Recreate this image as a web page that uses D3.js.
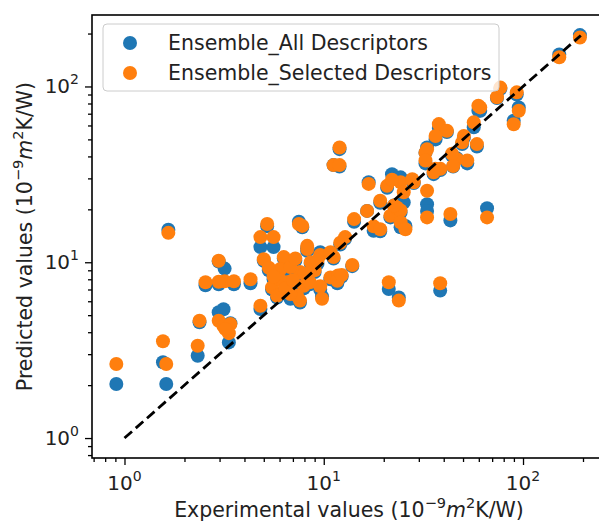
<!DOCTYPE html>
<html>
<head>
<meta charset="utf-8">
<script src="https://cdn.jsdelivr.net/npm/d3@7"></script>
<style>
  html, body { margin: 0; padding: 0; background: #fff; }
  svg { display: block; font-family: "DejaVu Sans", sans-serif; }
</style>
</head>
<body>
<svg id="chart"></svg>
<script>
// experimental value, prediction with all descriptors, prediction with selected descriptors
const experimental = [
  0.91, 1.56, 1.62, 1.66, 2.33, 2.38, 2.55, 2.97, 3.18, 2.97, 3.54, 2.97, 3.14, 3.40, 3.34, 3.21,
  4.81, 5.2, 5.6, 5.0, 4.29, 4.81, 5.5, 6.3, 6.06, 6.55, 5.83, 7.5, 7.94, 7.6, 7.35, 6.8,
  8.26, 8.6, 7.6, 9.6, 9.6, 9.8, 10.8, 11.8, 11.2, 11.7, 13.9, 12.3, 7.8, 8.26, 10.8, 12.1,
  12.8, 5.3, 6.0, 6.8, 7.2, 8.0, 9.0, 9.3, 5.6, 6.4, 7.0, 8.5,
  11.2, 12.0, 12.0, 16.8, 20.8, 24.3, 28.3, 14.2, 16.5, 17.8, 21.6, 23.3, 25.2, 24.3, 24.3, 25.7,
  19.2, 19.2, 22.5, 21.2, 23.8, 38.4, 33.0, 33.0, 43.2, 66.0, 22.0, 27.8,
  37.8, 41.5, 36.4, 33.0, 32.4, 49.5, 58.7, 46.6, 52.5, 44.0, 32.4, 36.4, 38.5, 35.6, 44.6, 50.5,
  56.6, 61.0, 59.7, 74.0, 77.0, 93.0, 95.2, 89.8, 152, 193
];
const predAll = [
  2.03, 2.70, 2.03, 15.3, 2.94, 4.55, 7.4, 10.1, 9.2, 7.5, 7.5, 5.2, 5.4, 4.5, 3.5, 4.3,
  12.2, 16.0, 12.2, 10.2, 7.6, 5.42, 7.0, 10.5, 8.8, 7.5, 6.3, 17.0, 7.1, 5.9, 6.2, 6.2,
  12.0, 9.8, 8.6, 11.4, 7.0, 6.4, 8.0, 8.2, 10.5, 7.6, 9.5, 8.3, 15.8, 11.6, 11.2, 12.6,
  13.6, 9.0, 8.2, 9.0, 10.2, 8.4, 8.8, 9.8, 8.0, 6.9, 7.6, 7.5,
  35.7, 35.0, 44.0, 28.5, 26.5, 30.4, 28.2, 17.0, 19.6, 15.1, 18.0, 20.0, 21.9, 19.2, 15.8, 16.1,
  21.8, 15.0, 21.0, 7.05, 6.3, 6.9, 21.4, 19.6, 17.3, 20.3, 31.7, 29.0,
  58.0, 55.0, 50.0, 45.0, 42.0, 47.0, 45.5, 39.0, 36.5, 40.5, 36.5, 33.2, 33.5, 31.7, 35.0, 51.0,
  58.6, 72.8, 72.8, 86.0, 97.0, 90.0, 76.0, 63.8, 152, 196
];
const predSelected = [
  2.64, 3.55, 2.64, 14.7, 3.35, 4.65, 7.7, 10.2, 7.8, 7.75, 7.8, 4.65, 4.33, 4.45, 3.95, 4.17,
  13.9, 16.5, 13.9, 10.4, 8.0, 5.66, 7.2, 10.7, 9.15, 7.7, 6.45, 16.5, 7.35, 6.05, 6.45, 6.6,
  12.4, 10.0, 8.8, 11.0, 7.3, 6.2, 8.2, 8.4, 10.7, 7.85, 9.65, 8.46, 16.1, 11.9, 11.4, 12.9,
  13.9, 9.3, 8.0, 9.4, 10.5, 8.6, 9.0, 10.2, 8.3, 7.1, 7.9, 7.7,
  35.7, 35.7, 45.0, 27.9, 27.2, 28.5, 28.5, 17.6, 19.6, 16.0, 18.4, 20.5, 25.0, 19.7, 16.9, 15.4,
  22.4, 15.4, 21.0, 7.7, 6.05, 7.6, 25.5, 18.0, 18.8, 18.0, 29.5, 29.7,
  61.1, 56.0, 52.3, 44.0, 42.0, 48.1, 47.0, 38.6, 37.9, 41.4, 37.9, 34.0, 34.0, 32.5, 35.3, 52.3,
  62.5, 76.0, 77.7, 86.8, 98.5, 92.6, 72.8, 61.0, 146.5, 190
];
const seriesNames = ["Ensemble_All Descriptors", "Ensemble_Selected Descriptors"];
const seriesColors = ["#1f77b4", "#ff7f0e"];
const majorTicks = [1, 10, 100];
const tickExponents = ["0", "1", "2"];
const idealLine = [1, 195];

const width = 599, height = 522;
const margin = { left: 92, right: 603, top: 15, bottom: 458 };
const markerR = 7;

const svg = d3.select("#chart").attr("width", width).attr("height", height);

const x = d3.scaleLog().domain([0.687, 252]).range([margin.left, margin.right]);
const y = d3.scaleLog().domain([0.77, 255]).range([margin.bottom, margin.top]);

const points = experimental.map((e, i) => ({ e, all: predAll[i], sel: predSelected[i] }));

// scatter: blue first, orange on top
svg.append("g").selectAll("circle")
  .data(points).enter().append("circle")
  .attr("cx", d => x(d.e)).attr("cy", d => y(d.all)).attr("r", markerR)
  .attr("fill", seriesColors[0]);
svg.append("g").selectAll("circle")
  .data(points).enter().append("circle")
  .attr("cx", d => x(d.e)).attr("cy", d => y(d.sel)).attr("r", markerR)
  .attr("fill", seriesColors[1]);

// y = x reference line
svg.append("line")
  .attr("x1", x(idealLine[0])).attr("y1", y(idealLine[0]))
  .attr("x2", x(idealLine[1])).attr("y2", y(idealLine[1]))
  .attr("stroke", "#000").attr("stroke-width", 2.8)
  .attr("stroke-dasharray", "10,5");

// axes (log minor ticks)
const minorX = [];
const minorY = [];
for (let dec = 0.1; dec <= 100; dec *= 10) {
  for (let k = 2; k <= 9; k++) {
    const v = +(k * dec).toPrecision(3);
    if (v > x.domain()[0] && v < x.domain()[1]) minorX.push(v);
    if (v > y.domain()[0] && v < y.domain()[1]) minorY.push(v);
  }
}

const xAxis = svg.append("g").attr("transform", `translate(0,${margin.bottom})`);
xAxis.call(d3.axisBottom(x).tickValues(minorX).tickSize(4).tickFormat(""));
xAxis.append("g").call(d3.axisBottom(x).tickValues(majorTicks).tickSize(7).tickFormat(""));
const yAxis = svg.append("g").attr("transform", `translate(${margin.left},0)`);
yAxis.call(d3.axisLeft(y).tickValues(minorY).tickSize(4).tickFormat(""));
yAxis.append("g").call(d3.axisLeft(y).tickValues(majorTicks).tickSize(7).tickFormat(""));
svg.selectAll(".domain").remove();
svg.selectAll(".tick line").attr("stroke", "#000").attr("stroke-width", 1.3);

// spines
svg.append("rect")
  .attr("x", margin.left).attr("y", margin.top)
  .attr("width", margin.right - margin.left).attr("height", margin.bottom - margin.top)
  .attr("fill", "none").attr("stroke", "#000").attr("stroke-width", 1.6);

// tick labels 10^n
majorTicks.forEach((v, i) => {
  const tx = svg.append("text")
    .attr("x", x(v)).attr("y", margin.bottom + 32)
    .attr("text-anchor", "middle").attr("font-size", 20).attr("fill", "#222");
  tx.append("tspan").text("10");
  tx.append("tspan").attr("font-size", 14).attr("dy", -9).text(tickExponents[i]);

  const ty = svg.append("text")
    .attr("x", 79).attr("y", y(v) + 7)
    .attr("text-anchor", "end").attr("font-size", 20).attr("fill", "#222");
  ty.append("tspan").text("10");
  ty.append("tspan").attr("font-size", 14).attr("dy", -9).text(tickExponents[i]);
});

// axis titles with mathtext-like units
function unitLabel(sel, prefix) {
  sel.append("tspan").text(prefix + " (10");
  sel.append("tspan").attr("font-size", 14.5).attr("dy", -9).text("\u22129");
  sel.append("tspan").attr("dy", 9).attr("font-style", "italic").text("m");
  sel.append("tspan").attr("font-size", 14.5).attr("dy", -9).text("2");
  sel.append("tspan").attr("dy", 9).text("K/W)");
}
const xl = svg.append("text")
  .attr("x", 349).attr("y", 517)
  .attr("text-anchor", "middle").attr("font-size", 20.5).attr("fill", "#222");
unitLabel(xl, "Experimental values");

const yl = svg.append("text")
  .attr("transform", `translate(32,${(margin.top + margin.bottom) / 2}) rotate(-90)`)
  .attr("text-anchor", "middle").attr("font-size", 20.5).attr("fill", "#222");
unitLabel(yl, "Predicted values");

// legend
const legend = svg.append("g");
legend.append("rect")
  .attr("x", 103).attr("y", 24).attr("width", 396).attr("height", 67)
  .attr("rx", 4).attr("fill", "#fff").attr("fill-opacity", 0.8)
  .attr("stroke", "#ccc").attr("stroke-width", 1);
seriesNames.forEach((name, i) => {
  const ly = 43 + i * 30;
  legend.append("circle").attr("cx", 130).attr("cy", ly).attr("r", markerR)
    .attr("fill", seriesColors[i]);
  legend.append("text").attr("x", 168).attr("y", ly + 7)
    .attr("font-size", 20.5).attr("fill", "#222").text(name);
});
</script>
</body>
</html>
